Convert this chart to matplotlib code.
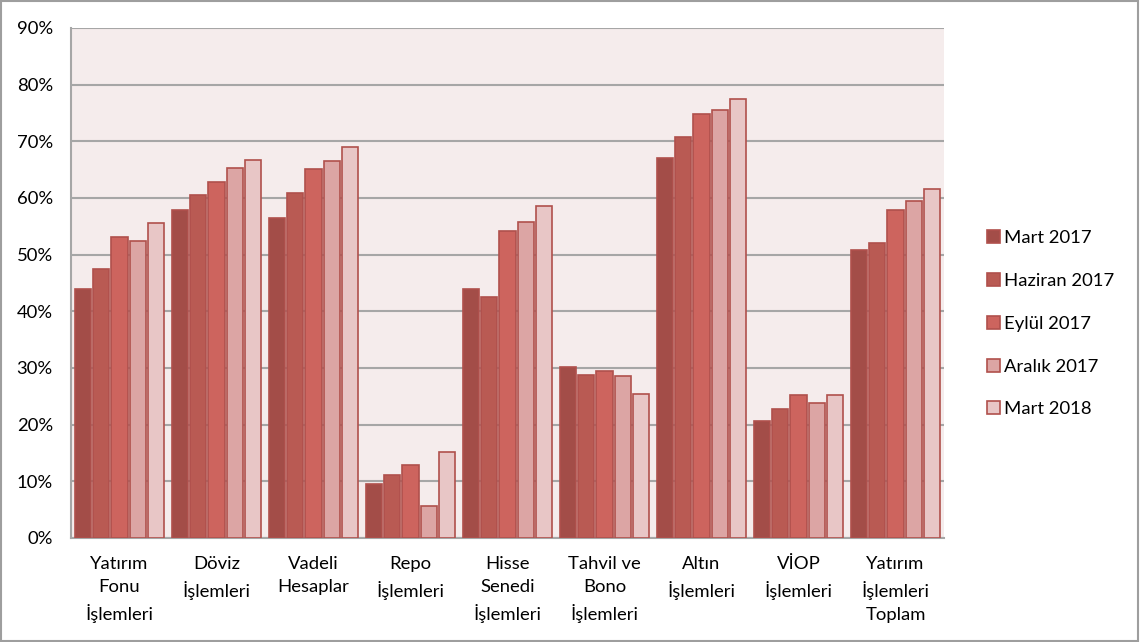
import matplotlib
matplotlib.use("Agg")
import matplotlib.pyplot as plt
import numpy as np
from matplotlib.patches import Rectangle
from matplotlib.ticker import PercentFormatter

plt.rcParams['font.family'] = ['Lato', 'DejaVu Sans']

categories = ["Yatırım\nFonu\nİşlemleri", "Döviz\nİşlemleri", "Vadeli\nHesaplar",
              "Repo\nİşlemleri", "Hisse\nSenedi\nİşlemleri", "Tahvil ve\nBono\nİşlemleri",
              "Altın\nİşlemleri", "VİOP\nİşlemleri", "Yatırım\nİşlemleri\nToplam"]
series_names = ["Mart 2017", "Haziran 2017", "Eylül 2017", "Aralık 2017", "Mart 2018"]

mart_2017    = [43.9, 57.8, 56.4,  9.5, 44.0, 30.2, 67.1, 20.7, 50.8]
haziran_2017 = [47.5, 60.6, 60.8, 11.1, 42.6, 28.8, 70.7, 22.8, 52.1]
eylul_2017   = [53.2, 62.8, 65.2, 12.9, 54.1, 29.5, 74.9, 25.2, 57.9]
aralik_2017  = [52.5, 65.3, 66.5,  5.6, 55.8, 28.6, 75.6, 23.8, 59.4]
mart_2018    = [55.6, 66.7, 69.0, 15.1, 58.6, 25.4, 77.5, 25.3, 61.6]

series = [mart_2017, haziran_2017, eylul_2017, aralik_2017, mart_2018]
colors = ["#a34d48", "#b95a53", "#cd645e", "#dca5a4", "#e8c6c6"]
edge = "#b0504c"
fs = 13.3

fig = plt.figure(figsize=(11.4, 6.42), dpi=100)
ax = fig.add_axes([71/1140, 1 - 538/642, 873/1140, 510/642])
ax.set_facecolor("#f5ecec")

x = np.arange(len(categories))
step = 0.186
width = 0.165
for i, (vals, name, c) in enumerate(zip(series, series_names, colors)):
    ax.bar(x + (i - 2) * step, vals, width, color=c, edgecolor=edge,
           linewidth=1.2, label=name, zorder=3)

ax.set_xlim(-0.5, len(categories) - 0.5)
ax.set_ylim(0, 90)
ax.set_yticks(np.arange(0, 91, 10))
ax.yaxis.set_major_formatter(PercentFormatter(decimals=0))
ax.grid(axis="y", color="#a6a6a6", linewidth=1.5, zorder=0)
ax.set_axisbelow(True)
ax.set_xticks(x)
ax.set_xticklabels(categories, linespacing=1.55)
ax.tick_params(axis="both", length=0, labelsize=fs, colors="black")
ax.tick_params(axis="x", pad=13)
ax.tick_params(axis="y", pad=13)
for s in ["top", "right"]:
    ax.spines[s].set_visible(False)
for s in ["left", "bottom"]:
    ax.spines[s].set_color("#a6a6a6")
    ax.spines[s].set_linewidth(1.5)

leg = ax.legend(loc="center left", bbox_to_anchor=(1.03, 0.42), frameon=False,
                fontsize=fs, labelspacing=1.45, handlelength=0.7,
                handleheight=0.7, handletextpad=0.25)

fig.patches.append(Rectangle((0.0005, 0.001), 0.998, 0.997, transform=fig.transFigure,
                             fill=False, edgecolor="#9e9e9e", linewidth=1.5))

fig.savefig("out.png", dpi=100)
